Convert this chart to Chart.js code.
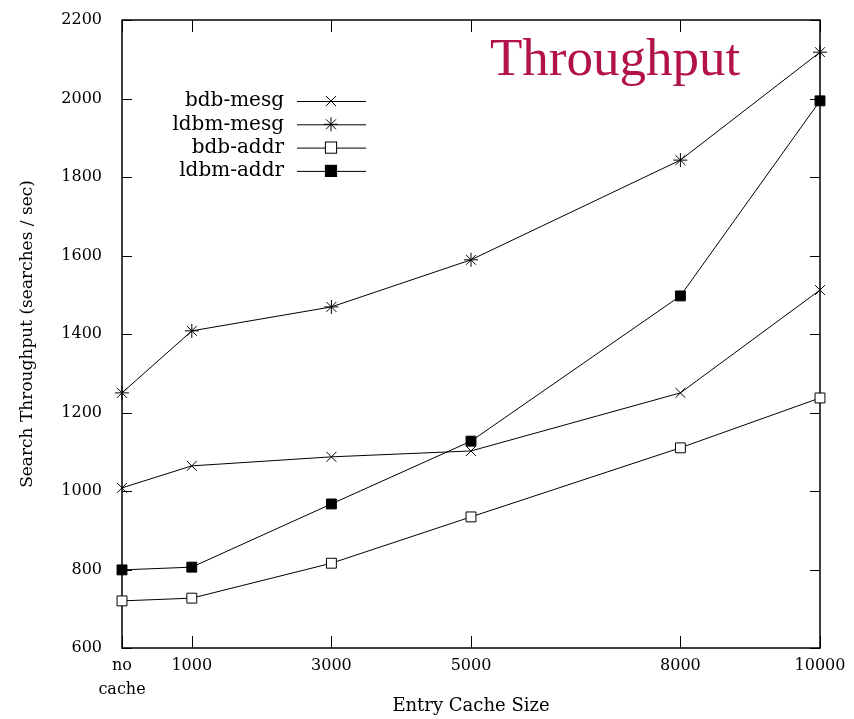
<!DOCTYPE html>
<html>
<head>
<meta charset="utf-8">
<script src="https://cdn.jsdelivr.net/npm/chart.js@4.4.1/dist/chart.umd.min.js"></script>
<style>
  html, body { margin: 0; padding: 0; background: #fff; }
  #wrap { position: relative; width: 854px; height: 719px; }
</style>
</head>
<body>
<div id="wrap"><canvas id="chart" width="854" height="719"></canvas></div>
<script>
// entry cache sizes (0 = no cache)
const cacheSizes = [0, 1000, 3000, 5000, 8000, 10000];
const xTicks = [0, 1000, 3000, 5000, 8000, 10000];
const yTicks = [600, 800, 1000, 1200, 1400, 1600, 1800, 2000, 2200];

// searches / sec
const bdbMesg  = [1008, 1064, 1087, 1102, 1250, 1512];
const ldbmMesg = [1250, 1408, 1469, 1589, 1843, 2118];
const bdbAddr  = [720, 727, 816, 934, 1110, 1237];
const ldbmAddr = [799, 806, 967, 1127, 1497, 1994];

const seriesNames = ['bdb-mesg', 'ldbm-mesg', 'bdb-addr', 'ldbm-addr'];

const serif = "'DejaVu Serif', 'Liberation Serif', serif";

function toPoints(values) {
    return values.map((v, i) => ({ x: cacheSizes[i], y: v }));
}

function makeSet(label, values, style, radius, fill) {
    return {
        label: label,
        data: toPoints(values),
        borderColor: '#000',
        borderWidth: 1,
        pointStyle: style,
        pointRadius: radius,
        pointBorderWidth: 1,
        pointBorderColor: '#000',
        pointBackgroundColor: fill,
        fill: false,
        tension: 0,
        clip: false
    };
}

// frame, inward ticks, legend and title
const decorations = {
    id: 'decorations',
    beforeDatasetsDraw(chart) {
        const ctx = chart.ctx;
        const a = chart.chartArea;
        const xs = chart.scales.x;
        const ys = chart.scales.y;
        ctx.save();
        ctx.strokeStyle = '#000';
        ctx.lineWidth = 1.5;
        ctx.strokeRect(a.left, a.top, a.right - a.left, a.bottom - a.top);
        ctx.lineWidth = 1;
        ctx.beginPath();
        yTicks.forEach(v => {
            const y = Math.round(ys.getPixelForValue(v)) + 0.5;
            ctx.moveTo(a.left, y); ctx.lineTo(a.left + 10, y);
            ctx.moveTo(a.right, y); ctx.lineTo(a.right - 10, y);
        });
        xTicks.forEach(v => {
            const x = Math.round(xs.getPixelForValue(v)) + 0.5;
            ctx.moveTo(x, a.bottom); ctx.lineTo(x, a.bottom - 12);
            ctx.moveTo(x, a.top); ctx.lineTo(x, a.top + 12);
        });
        ctx.stroke();
        ctx.restore();
    },
    afterDraw(chart) {
        const ctx = chart.ctx;
        ctx.save();
        // legend inside the plot
        ctx.font = '20px ' + serif;
        ctx.textAlign = 'right';
        ctx.textBaseline = 'middle';
        ctx.fillStyle = '#000';
        chart.data.datasets.forEach((ds, i) => {
            const y = 101 + i * 23.3;
            ctx.fillText(ds.label, 284, y);
            ctx.strokeStyle = '#000';
            ctx.lineWidth = 1;
            ctx.beginPath();
            ctx.moveTo(297, y + 0.5);
            ctx.lineTo(366, y + 0.5);
            ctx.stroke();
            Chart.helpers.drawPoint(ctx, {
                pointStyle: ds.pointStyle,
                radius: ds.pointRadius,
                borderWidth: 1
            }, 331, y);
            ctx.fillStyle = ds.pointBackgroundColor;
            ctx.strokeStyle = '#000';
            const r = ds.pointRadius;
            if (ds.pointStyle === 'rect') {
                ctx.fillRect(331 - r * 0.8, y - r * 0.8, r * 1.6, r * 1.6);
                ctx.strokeRect(331 - r * 0.8, y - r * 0.8, r * 1.6, r * 1.6);
            }
            ctx.fillStyle = '#000';
        });
        // title
        ctx.font = "53px 'Liberation Serif', 'Times New Roman', serif";
        ctx.textAlign = 'left';
        ctx.textBaseline = 'alphabetic';
        ctx.fillStyle = '#b3114b';
        ctx.fillText('Throughput', 490, 75);
        ctx.restore();
    }
};

new Chart(document.getElementById('chart'), {
    type: 'line',
    data: {
        datasets: [
            makeSet(seriesNames[0], bdbMesg, 'crossRot', 7, '#000'),
            makeSet(seriesNames[1], ldbmMesg, 'star', 7, '#000'),
            makeSet(seriesNames[2], bdbAddr, 'rect', 7, '#fff'),
            makeSet(seriesNames[3], ldbmAddr, 'rect', 7, '#000')
        ]
    },
    options: {
        responsive: false,
        animation: false,
        layout: { padding: { top: 20, right: 34, left: 17, bottom: 0 } },
        plugins: {
            legend: { display: false },
            tooltip: { enabled: false }
        },
        scales: {
            x: {
                type: 'linear',
                min: 0,
                max: 10000,
                afterBuildTicks: s => { s.ticks = xTicks.map(v => ({ value: v })); },
                afterFit: s => { s.height = 71; s.paddingLeft = 0; s.paddingRight = 0; },
                grid: { display: false, drawTicks: false },
                border: { display: false },
                ticks: {
                    autoSkip: false,
                    maxRotation: 0,
                    padding: 6,
                    color: '#000',
                    font: { family: serif, size: 16, lineHeight: 1.5 },
                    callback: v => v === 0 ? ['no', 'cache'] : String(v)
                },
                title: {
                    display: true,
                    text: 'Entry Cache Size',
                    color: '#000',
                    font: { family: serif, size: 18 },
                    padding: { top: 0, bottom: 2 }
                }
            },
            y: {
                min: 600,
                max: 2200,
                afterBuildTicks: s => { s.ticks = yTicks.map(v => ({ value: v })); },
                afterFit: s => { s.width = 105; s.paddingTop = 0; s.paddingBottom = 0; },
                grid: { display: false, drawTicks: false },
                border: { display: false },
                ticks: {
                    padding: 20,
                    color: '#000',
                    font: { family: serif, size: 16 },
                    callback: v => String(v)
                },
                title: {
                    display: true,
                    text: 'Search Throughput (searches / sec)',
                    color: '#000',
                    font: { family: serif, size: 17 },
                    padding: { top: 0, bottom: 0 }
                }
            }
        }
    },
    plugins: [decorations]
});
</script>
</body>
</html>
